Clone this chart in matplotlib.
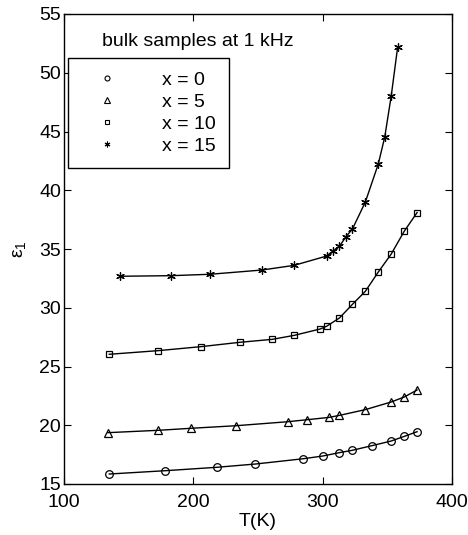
import matplotlib
matplotlib.use("Agg")
import matplotlib.pyplot as plt
from matplotlib.lines import Line2D
from matplotlib.path import Path

plt.rcParams['font.family'] = ['Liberation Sans', 'DejaVu Sans']
plt.rcParams['mathtext.fontset'] = 'custom'
plt.rcParams['mathtext.rm'] = 'Liberation Sans'

# x = 0
T0 = [135, 178, 218, 248, 285, 300, 313, 323, 338, 353, 363, 373]
e0 = [15.85, 16.13, 16.42, 16.7, 17.15, 17.38, 17.67, 17.87, 18.26, 18.66, 19.05, 19.45]
# x = 5
T5 = [134, 173, 198, 233, 273, 288, 305, 313, 333, 353, 363, 373]
e5 = [19.37, 19.57, 19.74, 19.96, 20.3, 20.47, 20.67, 20.84, 21.33, 21.98, 22.4, 23.0]
# x = 10
T10 = [135, 173, 206, 236, 261, 278, 298, 303, 313, 323, 333, 343, 353, 363, 373]
e10 = [26.04, 26.35, 26.69, 27.06, 27.31, 27.65, 28.19, 28.42, 29.13, 30.29, 31.4, 33.04, 34.57, 36.5, 38.1]
# x = 15
T15 = [143, 183, 213, 253, 278, 303, 308, 313, 318, 323, 333, 343, 348, 353, 358]
e15 = [32.68, 32.73, 32.85, 33.21, 33.61, 34.4, 34.83, 35.23, 36.05, 36.7, 39.0, 42.23, 44.53, 48.02, 52.2]

labels = ['x = 0', 'x = 5', 'x = 10', 'x = 15']
xticks = [100, 200, 300, 400]
yticks = [15, 20, 25, 30, 35, 40, 45, 50, 55]

fig = plt.figure(figsize=(4.68, 5.35), dpi=100)
ax = fig.add_axes([64/468, 1-484/535, (452-64)/468, (484-14)/535])

star = Path.unit_regular_asterisk(6)

series = [(T0, e0, 'o', 5.5), (T5, e5, '^', 6), (T10, e10, 's', 5), (T15, e15, star, 5.5)]
for T, e, m, ms in series:
    ax.plot(T, e, color='black', lw=1.0, marker=m, ms=ms, mfc='none', mec='black', mew=0.9)

ax.set_xlim(100, 400)
ax.set_ylim(15, 55)
ax.set_xticks(xticks)
ax.set_yticks(yticks)
ax.tick_params(direction='in', top=True, right=True, length=5, width=0.8, labelsize=14)
ax.tick_params(axis='x', pad=7.5)
ax.tick_params(axis='y', pad=2)
for s in ax.spines.values():
    s.set_linewidth(1.0)
ax.set_xlabel('T(K)', fontsize=14, labelpad=1)
ax.set_ylabel(r'$\mathregular{ε_1}$', fontsize=14, labelpad=8)

handles = [Line2D([], [], ls='none', marker=m, ms=ms*0.65, mfc='none', mec='black', mew=0.8)
           for (_, _, m, ms) in series]
leg = ax.legend(handles, labels, loc='upper left', bbox_to_anchor=(68.3/468, 1-57.7/535),
                bbox_transform=fig.transFigure, fontsize=14, frameon=True, fancybox=False,
                edgecolor='black', framealpha=1, borderpad=0.7, labelspacing=0.22,
                handlelength=2.55, handletextpad=1.55, borderaxespad=0, numpoints=1)
leg.get_frame().set_linewidth(1.0)
ax.text(101.7/468, 1-41/535, 'bulk samples at 1 kHz', transform=fig.transFigure,
        fontsize=14, va='center', ha='left')

fig.savefig('out.png', dpi=100)
